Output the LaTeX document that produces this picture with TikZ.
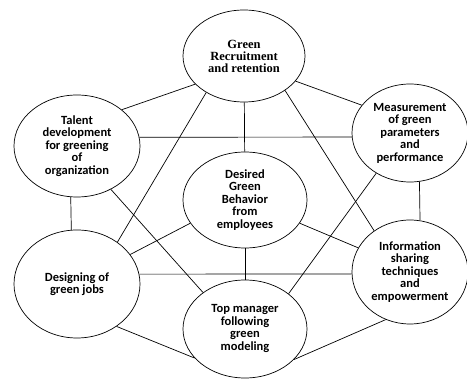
\documentclass[tikz,border=0pt]{standalone}
\usepackage{fontspec}
\setmainfont{Carlito}
\newfontfamily\headfont{Liberation Serif}
\usepackage{tikz}
\usetikzlibrary{shapes.geometric}

\begin{document}
\begin{tikzpicture}[x=1pt, y=-1pt,
				bubble/.style={draw, ellipse, inner sep=0pt, line width=0.7pt, align=center,
					font=\bfseries\fontsize{12.5}{12.5}\selectfont},
				link/.style={draw, line width=0.7pt}]
				\useasboundingbox (0,0) rectangle (467,379);
				\node at (244,56) (rec) [bubble, minimum width=122pt, minimum height=92pt,
					font=\headfont\bfseries\fontsize{12.5}{12}\selectfont] {Green\\Recruitment\\and retention};
				\node at (77,146) (talent) [bubble, minimum width=126pt, minimum height=102pt] {Talent\\development\\for greening\\of\\organization};
				\node at (410,133) (measure) [bubble, minimum width=116pt, minimum height=98pt] {Measurement\\of green\\parameters\\and\\performance};
				\node at (245,200) (desired) [bubble, minimum width=124pt, minimum height=96pt] {Desired\\Green\\Behavior\\from\\employees};
				\node at (77,284) (design) [bubble, minimum width=126pt, minimum height=108pt] {Designing of\\green jobs};
				\node at (410,272) (info) [bubble, minimum width=116pt, minimum height=104pt] {Information\\sharing\\techniques\\and\\empowerment};
				\node at (245,329) (mgr) [bubble, minimum width=124pt, minimum height=98pt]
					{\raisebox{-9pt}{\begin{tabular}{@{}c@{}}Top manager\\following\\green\\modeling\end{tabular}}};
				% outer ring
				\draw[link] (rec.210) -- (talent.39);
				\draw[link] (rec.334) -- (measure.150);
				\draw[link] (talent.263) -- (design.96);
				\draw[link] (measure.281) -- (info.79);
				\draw[link] (design.313) -- (mgr.210);
				\draw[link] (info.243) -- (mgr.328);
				% cross links
				\draw[link] (talent.8) -- (measure.184);
				\draw[link] (design.9) -- (info.182);
				\draw[link] (rec.224) -- (design.46);
				\draw[link] (rec.320) -- (info.131);
				\draw[link] (talent.308) -- (mgr.139);
				\draw[link] (measure.230) -- (mgr.39);
				% centre
				\draw[link] (rec) -- (desired);
				\draw[link] (desired) -- (mgr);
				\draw[link] (desired.203) -- (design.29);
				\draw[link] (desired.337) -- (info.155);
\end{tikzpicture}
\end{document}
